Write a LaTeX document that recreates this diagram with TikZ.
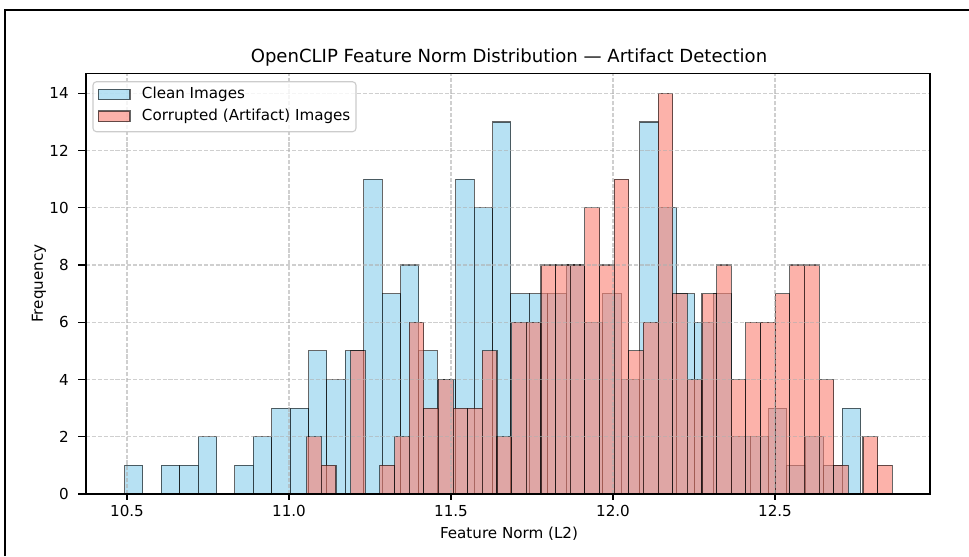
\documentclass[tikz,border=0pt]{standalone}
\usepackage{fontspec}
\setmainfont{DejaVu Sans}
\definecolor{cleanfill}{HTML}{87CEEB}
\definecolor{corruptfill}{HTML}{FA8072}
\definecolor{gridgray}{HTML}{B0B0B0}
\definecolor{legedge}{HTML}{CCCCCC}
\tikzset{
  cleanbar/.style={fill=cleanfill, fill opacity=0.6, draw=black, draw opacity=0.6, line width=0.8pt},
  corruptbar/.style={fill=corruptfill, fill opacity=0.6, draw=black, draw opacity=0.6, line width=0.8pt},
  gridline/.style={draw=gridgray, line width=0.8pt, dash pattern=on 2.96pt off 1.28pt, draw opacity=0.6},
  spine/.style={draw=black, line width=0.8pt},
  tickmark/.style={draw=black, line width=0.8pt},
  ticklabel/.style={font=\fontsize{10.9}{13}\selectfont, inner sep=0pt},
  axislabel/.style={font=\fontsize{10.9}{13}\selectfont, inner sep=0pt},
  legtext/.style={font=\fontsize{10.9}{13}\selectfont, inner sep=0pt, anchor=west},
}
\begin{document}
\begin{tikzpicture}[x=0.72pt, y=-0.72pt]
\useasboundingbox (0,0) rectangle (969,556);
\fill[white] (0,0) rectangle (969,556);

% outer frame (left and top edges)
\draw[line width=1.6pt] (5,556) -- (5,10) -- (969,10);

% clean image histogram: 40 bins of width 18.40px starting at 124.5px
\foreach \c [count=\i from 0] in {1,0,1,1,2,0,1,2,3,3,5,4,5,11,7,8,5,4,11,10,13,7,7,7,8,6,7,4,13,10,7,6,7,2,2,3,1,2,1,3} {
  \ifnum\c>0
    \draw[cleanbar] ({124.5+18.40*\i},494) rectangle ({124.5+18.40*(\i+1)},{494-28.62*\c});
  \fi
}
% corrupted image histogram: 40 bins of width 14.64px starting at 306.7px
\foreach \c [count=\i from 0] in {2,1,0,5,0,1,2,6,3,4,3,3,5,2,6,6,8,8,8,10,8,11,5,6,14,7,4,7,8,4,6,6,7,8,8,4,1,0,2,1} {
  \ifnum\c>0
    \draw[corruptbar] ({306.7+14.64*\i},494) rectangle ({306.7+14.64*(\i+1)},{494-28.62*\c});
  \fi
}

% grid
\foreach \v in {10.5,11.0,11.5,12.0,12.5}
  \draw[gridline] ({289+(\v-11)*324},494) -- ({289+(\v-11)*324},73.3);
\foreach \v in {0,2,...,14}
  \draw[gridline] (86,{494-28.62*\v}) -- (930,{494-28.62*\v});

% axes frame
\draw[spine] (86,73.3) rectangle (930,494);

% x ticks and labels
\foreach \v [count=\k] in {10.5,11.0,11.5,12.0,12.5} {
  \draw[tickmark] ({289+(\v-11)*324},494) -- ++(0,6);
  \node[ticklabel, anchor=north] (xt\k) at ({289+(\v-11)*324},505) {\v};
}
% y ticks and labels
\foreach \v [count=\k] in {0,2,...,14} {
  \draw[tickmark] (86,{494-28.62*\v}) -- ++(-8,0);
  \node[ticklabel, anchor=east] (yt\k) at (69,{494-28.62*\v}) {\v};
}

% axis labels and title
\node[axislabel, anchor=north] (xlabel) at (509,527) {Feature Norm (L2)};
\node[axislabel, rotate=90] (ylabel) at (39,283.6) {Frequency};
\node[font=\fontsize{13}{15}\selectfont, inner sep=0pt, anchor=base] (title) at (509,62) {OpenCLIP Feature Norm Distribution — Artifact Detection};

% legend
\draw[draw=legedge, fill=white, fill opacity=0.8, line width=0.8pt, rounded corners=2.5pt] (93,81.7) rectangle (356,131.7);
\draw[cleanbar] (98.3,89.3) rectangle (130,99.5);
\draw[corruptbar] (98.3,111) rectangle (130,121.5);
\node[legtext] (legclean) at (141.7,94.4) {Clean Images};
\node[legtext] (legcorrupt) at (141.7,116.2) {Corrupted (Artifact) Images};
\end{tikzpicture}
\end{document}
